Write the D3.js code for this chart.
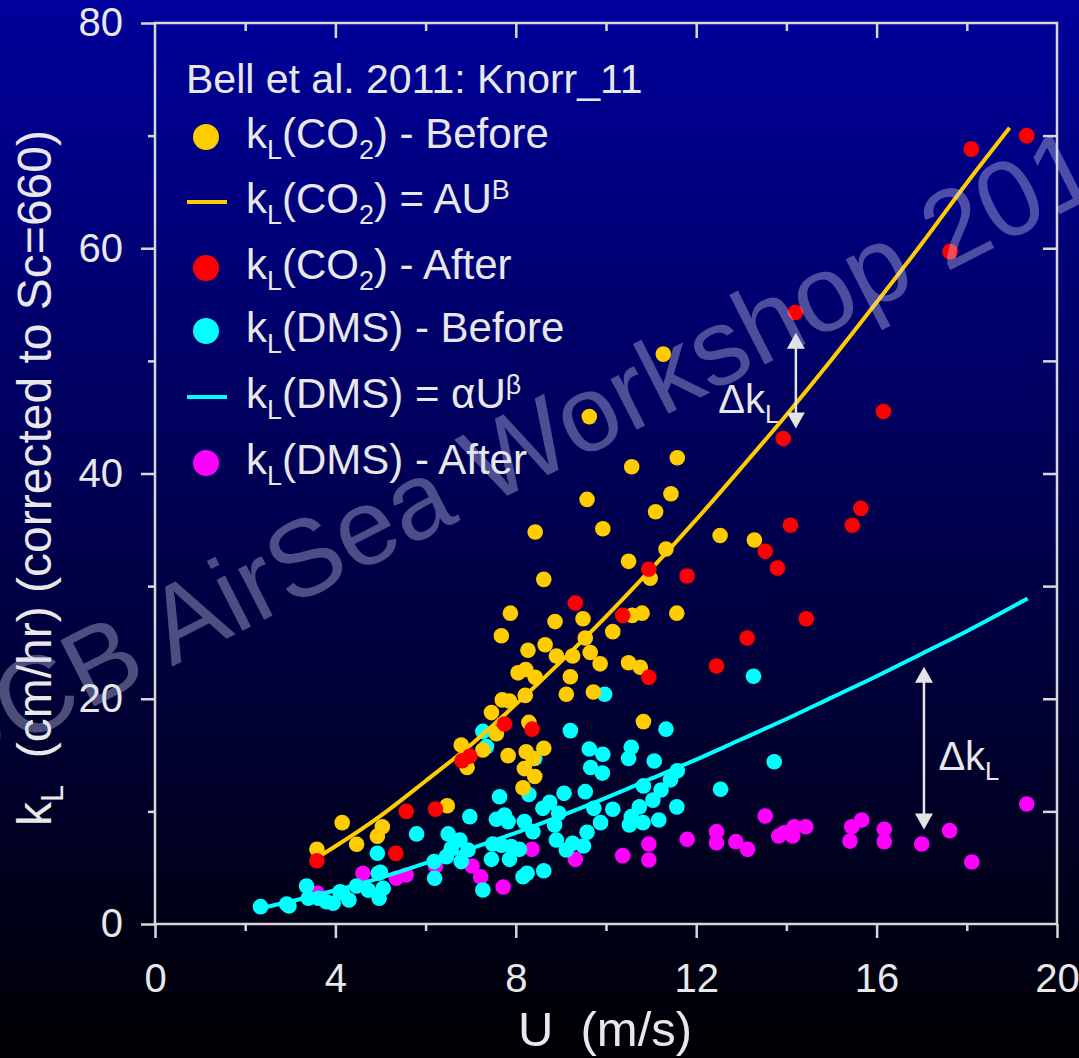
<!DOCTYPE html>
<html>
<head>
<meta charset="utf-8">
<script src="https://cdn.jsdelivr.net/npm/d3@7"></script>
<style>
  body { margin: 0; background: #000; }
  svg { display: block; }
  text { font-family: "Liberation Sans", Arial, sans-serif; fill: #e8e8e8; white-space: pre; }
</style>
</head>
<body>
<svg id="chart"></svg>
<script>
// kL(CO2) before
const co2BeforeU = [3.59, 4.15, 4.47, 5.04, 4.93, 6.48, 6.92, 6.79, 7.27, 7.46, 7.57, 7.70, 7.83, 7.86, 8.16, 8.19, 8.21, 8.23, 8.29, 8.38, 8.42, 8.62, 10.83,
  7.68, 7.88, 8.05, 8.22, 8.27, 8.43, 8.43, 8.62, 8.65, 8.87, 8.90, 9.12, 9.21, 9.26, 9.49, 9.54, 9.58, 9.63, 9.65, 9.72, 9.87, 9.93,
  10.15, 10.50, 10.50, 10.57, 10.58, 10.76, 10.80, 10.98, 11.10, 11.27, 11.33, 11.44, 11.57, 11.58, 12.53, 13.29];
const co2BeforeK = [6.63, 9.0, 7.08, 8.64, 7.8, 10.5, 13.9, 15.9, 15.45, 18.77, 16.9, 19.9, 14.95, 19.8, 12.1, 13.8, 20.3, 15.3, 17.9, 14.7, 13.1, 15.6, 17.97,
  25.6, 27.6, 22.3, 22.6, 24.3, 21.9, 34.8, 30.6, 24.8, 26.85, 23.8, 20.4, 21.96, 23.8, 27.1, 25.4, 37.7, 45.05, 24.1, 20.6, 23.1, 35.1,
  25.96, 32.2, 23.2, 40.6, 27.4, 22.8, 27.6, 30.7, 36.6, 50.6, 33.3, 38.2, 27.6, 41.4, 34.5, 34.1];

// kL(CO2) after
const co2AfterU = [3.59, 5.34, 5.57, 6.22, 6.81, 6.98, 7.75, 8.36, 9.32, 10.37, 10.95, 10.95, 11.80, 12.45, 13.13, 13.53, 13.80, 13.93,
  14.09, 14.20, 14.44, 15.46, 15.65, 16.15, 17.63, 18.10, 19.33];
const co2AfterK = [5.62, 6.27, 10.0, 10.2, 14.5, 14.9, 17.76, 17.3, 28.5, 27.4, 31.5, 21.9, 30.9, 22.9, 25.4, 33.1, 31.6, 43.1,
  35.4, 54.3, 27.1, 35.4, 36.9, 45.5, 59.7, 68.8, 70.0];

// kL(DMS) before
const dmsBeforeU = [2.34, 2.92, 2.97, 3.36, 3.40, 3.62, 3.80, 3.95, 4.10, 4.16, 4.30, 4.47, 4.73, 4.93, 4.95, 5.00, 4.97, 5.06, 5.80,
  6.20, 6.19, 6.50, 6.46, 6.57, 6.76, 6.79, 6.98, 6.94, 7.27, 7.46, 7.57, 7.64, 7.27, 7.35, 7.75, 7.83, 8.19, 8.38, 8.29, 8.42,
  8.60, 8.75, 8.86, 8.95, 9.07, 9.21, 9.54, 9.63, 9.66, 9.73, 9.88, 9.92, 9.93, 9.97, 10.15, 10.50, 10.52, 10.56, 10.56, 10.74,
  10.82, 10.83, 11.04, 11.07, 11.17, 11.22, 11.33, 11.43, 11.57, 11.58, 7.49, 7.68, 7.90, 8.08, 7.86, 8.90, 9.12, 9.26, 9.50,
  9.58, 8.16, 8.25, 8.62, 12.54, 13.27, 13.73];
const dmsBeforeK = [1.54, 1.78, 1.6, 3.37, 2.28, 2.28, 1.98, 1.84, 2.87, 2.75, 2.13, 3.37, 3.0, 6.28, 4.5, 4.6, 2.28, 3.17, 8.0,
  4.06, 5.54, 8.0, 5.98, 6.72, 7.46, 5.54, 9.53, 6.57, 3.02, 5.74, 9.3, 11.3, 17.1, 15.75, 9.68, 9.09, 9.09, 8.2, 11.5, 14.7,
  10.27, 10.8, 8.8, 9.83, 11.6, 17.17, 11.75, 15.54, 13.9, 10.27, 9.0, 13.4, 15.07, 20.4, 10.19, 14.7, 8.8, 15.7, 9.53, 10.4,
  9.0, 12.26, 11.0, 14.47, 9.24, 11.9, 17.3, 12.8, 10.4, 13.6, 7.1, 7.0, 6.87, 6.63, 5.74, 7.46, 6.57, 7.17, 6.93,
  8.14, 4.2, 4.5, 4.73, 11.96, 22.0, 14.4];

// kL(DMS) after
const dmsAfterU = [3.60, 4.61, 5.35, 5.57, 6.22, 7.03, 7.22, 7.72, 8.36, 9.32, 10.37, 10.95, 10.95, 11.80, 12.45, 12.45, 12.88,
  13.14, 13.53, 13.83, 13.95, 14.14, 14.17, 14.43, 15.41, 15.45, 15.67, 16.17, 16.17, 17.00, 17.62, 18.11, 19.33];
const dmsAfterK = [2.72, 4.5, 4.06, 4.35, 5.15, 5.15, 4.18, 3.28, 6.63, 5.74, 6.07, 7.1, 5.68, 7.52, 8.2, 7.22, 7.31,
  6.63, 9.59, 7.82, 8.1, 7.82, 8.64, 8.64, 7.36, 8.64, 9.24, 8.41, 7.31, 7.1, 8.29, 5.5, 10.66];

// fitted curves
const co2FitU = [3.6, 4, 5, 6, 7, 8, 9, 10, 11, 12, 13, 14, 15, 16, 17, 18, 18.95];
const co2FitK = [5.9, 6.9, 9.6, 12.7, 15.9, 19.5, 23.3, 27.3, 31.5, 35.9, 40.5, 45.2, 50.1, 55.2, 60.4, 65.8, 70.7];
const dmsFitU = [2.3, 3, 4, 5, 6, 7, 8, 9, 10, 11, 12, 13, 14, 15, 16, 17, 18, 19.35];
const dmsFitK = [1.37, 2.0, 3.0, 4.1, 5.4, 6.7, 8.1, 9.6, 11.2, 12.9, 14.6, 16.4, 18.2, 20.1, 22.0, 24.0, 26.0, 28.9];

// delta kL arrows: [U, kTop, kBottom, labelU, labelK]
const deltaArrows = [[14.21, 52.5, 44.0, 12.49, 45.4], [17.05, 22.85, 8.4, 17.37, 13.7]];

const xTicks = [0, 4, 8, 12, 16, 20];
const xMinor = [2, 6, 10, 14, 18];
const yTicks = [0, 20, 40, 60, 80];
const yMinor = [10, 30, 50, 70];
const yRight = [10, 20, 30, 40, 50, 60, 70];

const width = 1079, height = 1058;
const colors = { co2Before: "#ffcc00", co2After: "#ff0000", dmsBefore: "#00ffff", dmsAfter: "#ff00ff" };

const svg = d3.select("#chart").attr("width", width).attr("height", height);

/* background gradient */
const grad = svg.append("defs").append("linearGradient")
  .attr("id", "bg").attr("x1", 0).attr("y1", 0).attr("x2", 0).attr("y2", 1);
grad.append("stop").attr("offset", "0%").attr("stop-color", "#00009c");
grad.append("stop").attr("offset", "50%").attr("stop-color", "#00004e");
grad.append("stop").attr("offset", "100%").attr("stop-color", "#000004");
svg.append("rect").attr("width", width).attr("height", height).attr("fill", "url(#bg)");

/* scales */
const x = d3.scaleLinear().domain([0, 20]).range([155, 1057]);
const y = d3.scaleLinear().domain([0, 80]).range([924, 23]);

const axisColor = "#d8d8d8";
function styleAxis(g) {
  g.select(".domain").remove();
  g.selectAll("line").attr("stroke", axisColor).attr("stroke-width", 2.5);
  g.selectAll("text").attr("fill", "#e8e8e8").attr("font-size", 40)
    .attr("font-family", '"Liberation Sans", Arial, sans-serif');
}

svg.append("g").attr("transform", "translate(0,924)")
  .call(d3.axisBottom(x).tickValues(xTicks).tickSize(14).tickPadding(26).tickFormat(d3.format("d")))
  .call(styleAxis);
svg.append("g").attr("transform", "translate(0,924)")
  .call(d3.axisBottom(x).tickValues(xMinor).tickSize(7).tickFormat(""))
  .call(styleAxis);
svg.append("g").attr("transform", "translate(155,0)")
  .call(d3.axisLeft(y).tickValues(yTicks).tickSize(14).tickPadding(18).tickFormat(d3.format("d")))
  .call(styleAxis);
svg.append("g").attr("transform", "translate(155,0)")
  .call(d3.axisLeft(y).tickValues(yMinor).tickSize(7).tickFormat(""))
  .call(styleAxis);
// inward ticks on the top and right sides
svg.append("g").attr("transform", "translate(0,23)")
  .call(d3.axisBottom(x).tickValues(xTicks.slice(1, -1)).tickSize(15).tickFormat(""))
  .call(styleAxis);
svg.append("g").attr("transform", "translate(0,23)")
  .call(d3.axisBottom(x).tickValues(xMinor).tickSize(8).tickFormat(""))
  .call(styleAxis);
svg.append("g").attr("transform", "translate(1057,0)")
  .call(d3.axisLeft(y).tickValues(yRight).tickSize(14).tickFormat(""))
  .call(styleAxis);

svg.append("rect")
  .attr("x", x(0)).attr("y", y(80))
  .attr("width", x(20) - x(0)).attr("height", y(0) - y(80))
  .attr("fill", "none").attr("stroke", axisColor).attr("stroke-width", 2.5);

/* rich text helper for sub/superscripts */
function addRich(textSel, parts, size) {
  let shift = 0;
  parts.forEach(([str, mode]) => {
    const target = mode === "sub" ? size * 0.26 : mode === "sup" ? -size * 0.34 : 0;
    textSel.append("tspan")
      .attr("dy", target - shift)
      .attr("font-size", mode ? size * 0.64 : size)
      .text(str);
    shift = target;
  });
}

/* axis titles */
svg.append("text").attr("x", 605).attr("y", 1046).attr("text-anchor", "middle")
  .attr("font-size", 49).text("U  (m/s)");
const yTitle = svg.append("text").attr("transform", "translate(51,478) rotate(-90)")
  .attr("text-anchor", "middle");
addRich(yTitle, [["k", ""], ["L", "sub"], ["  (cm/hr) (corrected to Sc=660)", ""]], 48);

/* data */
const pts = (us, ks) => d3.zip(us, ks);
function drawPoints(data, color) {
  svg.append("g").selectAll("circle").data(data).enter().append("circle")
    .attr("cx", (d) => x(d[0])).attr("cy", (d) => y(d[1])).attr("r", 7.8)
    .attr("fill", color);
}
const line = d3.line().x((d) => x(d[0])).y((d) => y(d[1])).curve(d3.curveMonotoneX);

drawPoints(pts(dmsAfterU, dmsAfterK), colors.dmsAfter);
drawPoints(pts(dmsBeforeU, dmsBeforeK), colors.dmsBefore);
drawPoints(pts(co2BeforeU, co2BeforeK), colors.co2Before);
svg.append("path").datum(pts(dmsFitU, dmsFitK)).attr("d", line)
  .attr("fill", "none").attr("stroke", colors.dmsBefore).attr("stroke-width", 4);
svg.append("path").datum(pts(co2FitU, co2FitK)).attr("d", line)
  .attr("fill", "none").attr("stroke", colors.co2Before).attr("stroke-width", 4);
drawPoints(pts(co2AfterU, co2AfterK), colors.co2After);

/* legend */
svg.append("text").attr("x", 186).attr("y", 93).attr("font-size", 41).text("Bell et al. 2011: Knorr_11");
const legendRows = [
  { type: "dot", color: colors.co2Before, parts: [["k", ""], ["L", "sub"], ["(CO", ""], ["2", "sub"], [") - Before", ""]] },
  { type: "line", color: colors.co2Before, parts: [["k", ""], ["L", "sub"], ["(CO", ""], ["2", "sub"], [") = AU", ""], ["B", "sup"]] },
  { type: "dot", color: colors.co2After, parts: [["k", ""], ["L", "sub"], ["(CO", ""], ["2", "sub"], [") - After", ""]] },
  { type: "dot", color: colors.dmsBefore, parts: [["k", ""], ["L", "sub"], ["(DMS) - Before", ""]] },
  { type: "line", color: colors.dmsBefore, parts: [["k", ""], ["L", "sub"], ["(DMS) = \u03b1U", ""], ["\u03b2", "sup"]] },
  { type: "dot", color: colors.dmsAfter, parts: [["k", ""], ["L", "sub"], ["(DMS) - After", ""]] }
];
const rowY = [137, 202, 268, 331, 397, 463];
legendRows.forEach((row, i) => {
  const cy = rowY[i];
  if (row.type === "dot") {
    svg.append("circle").attr("cx", 206).attr("cy", cy).attr("r", 13).attr("fill", row.color);
  } else {
    svg.append("line").attr("x1", 187).attr("x2", 227).attr("y1", cy).attr("y2", cy)
      .attr("stroke", row.color).attr("stroke-width", 4);
  }
  const t = svg.append("text").attr("x", 246).attr("y", cy + 11).attr("font-size", 42);
  addRich(t, row.parts, 42);
});

/* delta kL arrows */
const arrowColor = "#e4e4e4";
deltaArrows.forEach(([u, k1, k2, lu, lk]) => {
  const ax = x(u), yTop = y(k1), yBot = y(k2);
  svg.append("line").attr("x1", ax).attr("x2", ax).attr("y1", yTop + 12).attr("y2", yBot - 12)
    .attr("stroke", arrowColor).attr("stroke-width", 2.5);
  svg.append("path").attr("d", `M${ax},${yTop} L${ax - 9},${yTop + 16} L${ax + 9},${yTop + 16} Z`).attr("fill", arrowColor);
  svg.append("path").attr("d", `M${ax},${yBot} L${ax - 9},${yBot - 16} L${ax + 9},${yBot - 16} Z`).attr("fill", arrowColor);
  const t = svg.append("text").attr("x", x(lu)).attr("y", y(lk)).attr("font-size", 40);
  addRich(t, [["\u0394k", ""], ["L", "sub"]], 40);
});

/* watermark */
const wmSize = 108;
const wm = svg.append("g");
const wmText = wm.append("text")
  .attr("font-family", '"Open Sans", sans-serif')
  .attr("font-size", wmSize)
  .attr("opacity", 0.36)
  .style("fill", "#d4d8f4")
  .text("OCB AirSea Workshop 2019");
const ext = wmText.node().getExtentOfChar(12);
wmText.attr("x", -(ext.x + ext.width / 2)).attr("y", wmSize * 0.27);
wm.attr("transform", "translate(590,421) rotate(-27)");
</script>
</body>
</html>
